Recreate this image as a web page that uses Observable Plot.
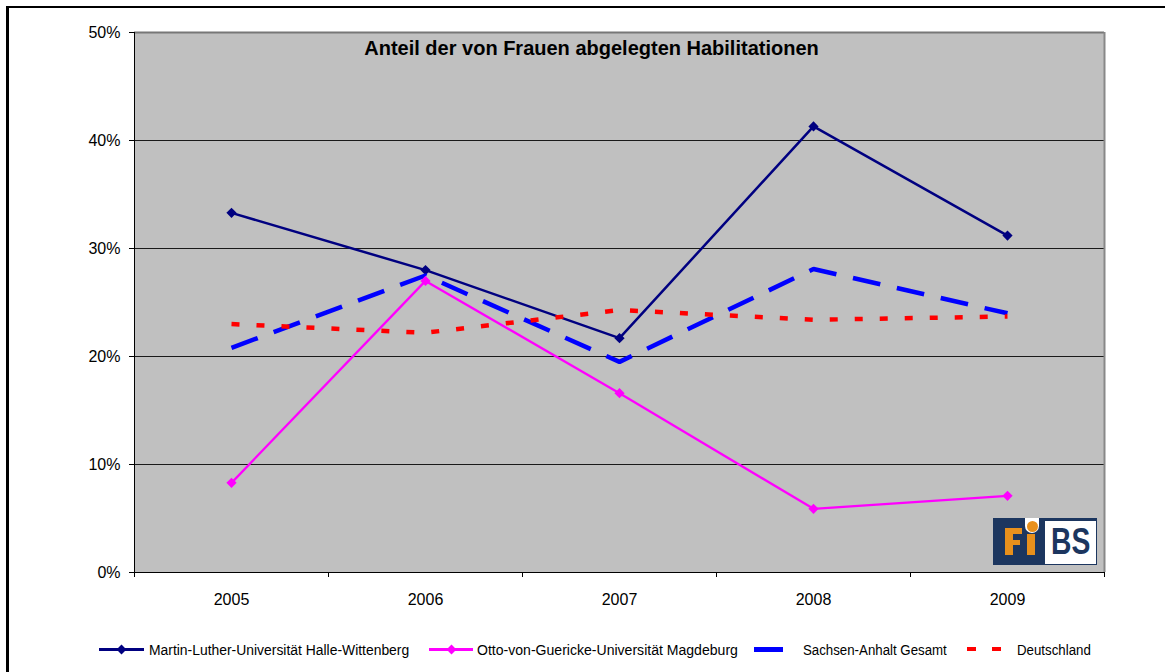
<!DOCTYPE html>
<html><head><meta charset="utf-8">
<script src="https://cdn.jsdelivr.net/npm/d3@7"></script>
<script src="https://cdn.jsdelivr.net/npm/@observablehq/plot@0.6"></script>
<style>
body{margin:0;background:#fff;font-family:"Liberation Sans",Arial,sans-serif;}
#wrap{position:relative;width:1165px;height:672px;overflow:hidden;background:#fff;}
#chart{position:absolute;left:0;top:0;}
.frame{position:absolute;left:6px;top:6px;width:1300px;height:800px;border-top:2px solid #000;border-left:3px solid #000;pointer-events:none;}
.abs{position:absolute;}
.lt{position:absolute;top:642.5px;font-size:14px;line-height:14px;white-space:nowrap;transform-origin:0 0;color:#000;}
</style></head>
<body>
<div id="wrap">
  <div id="chart"></div>
  <div class="frame"></div>
  <div id="legend"></div>
  <div id="logo"></div>
</div>
<script>
const title = "Anteil der von Frauen abgelegten Habilitationen";
const years = [2005, 2006, 2007, 2008, 2009];
const yearBounds = [2004.5, 2005.5, 2006.5, 2007.5, 2008.5, 2009.5];
const yTicks = [0, 0.1, 0.2, 0.3, 0.4, 0.5];
const seriesNames = [
  "Martin-Luther-Universität Halle-Wittenberg",
  "Otto-von-Guericke-Universität Magdeburg",
  "Sachsen-Anhalt Gesamt",
  "Deutschland"
];
const mluValues  = [0.333, 0.280, 0.217, 0.413, 0.312];
const ovguValues = [0.083, 0.270, 0.166, 0.059, 0.071];
const lsaValues  = [0.208, 0.275, 0.195, 0.281, 0.240];
const deValues   = [0.230, 0.222, 0.243, 0.234, 0.237];
const seriesColors = ["#000080", "#ff00ff", "#0000ff", "#ff0000"];

const rows = (name, vals) => years.map((y, i) => ({year: y, value: vals[i], series: name}));
const mlu = rows(seriesNames[0], mluValues);
const ovgu = rows(seriesNames[1], ovguValues);
const lsa = rows(seriesNames[2], lsaValues);
const de = rows(seriesNames[3], deValues);

const chart = Plot.plot({
  width: 1165, height: 625,
  marginLeft: 134, marginRight: 61, marginTop: 32, marginBottom: 53,
  style: {fontFamily: '"Liberation Sans", Arial, sans-serif', fontSize: "16px", background: "transparent", color: "#000", overflow: "visible"},
  x: {type: "linear", domain: [2004.5, 2009.5]},
  y: {domain: [0, 0.5]},
  marks: [
    Plot.frame({fill: "#c0c0c0", stroke: "none"}),
    Plot.ruleY(yTicks.filter(t => t > 0 && t < 0.5), {stroke: "#1a1a1a", strokeWidth: 1.2}),
    Plot.ruleY([0.5], {stroke: "#777", strokeWidth: 2}),
    Plot.ruleX([2009.5], {stroke: "#888", strokeWidth: 2}),
    Plot.ruleX([2004.5], {stroke: "#000", strokeWidth: 1}),
    Plot.ruleY([0], {stroke: "#000", strokeWidth: 1}),
    Plot.axisY({ticks: yTicks, tickFormat: d3.format(".0%"), tickSize: 5, tickPadding: 9, label: null}),
    Plot.axisX({ticks: yearBounds, tickSize: 5, tickFormat: () => "", label: null}),
    Plot.axisX({ticks: years, tickSize: 0, tickPadding: 21, tickFormat: d => String(d), label: null}),
    Plot.text([title], {text: d => d, frameAnchor: "top", dx: -28, dy: 8, lineAnchor: "top", fontSize: 20, fontWeight: "bold", fill: "#000"}),
    Plot.line(mlu, {x: "year", y: "value", stroke: seriesColors[0], strokeWidth: 2.5}),
    Plot.dot(mlu, {x: "year", y: "value", symbol: "diamond2", r: 4.6, fill: seriesColors[0], stroke: "none"}),
    Plot.line(lsa, {x: "year", y: "value", stroke: seriesColors[2], strokeWidth: 4.5, strokeDasharray: "28,17", strokeLinecap: "butt", strokeLinejoin: "miter"}),
    Plot.line(de, {x: "year", y: "value", stroke: seriesColors[3], strokeWidth: 4.5, strokeDasharray: "8,17", strokeLinecap: "butt"}),
    Plot.line(ovgu, {x: "year", y: "value", stroke: seriesColors[1], strokeWidth: 2.3}),
    Plot.dot(ovgu, {x: "year", y: "value", symbol: "diamond2", r: 4.6, fill: seriesColors[1], stroke: "none"})
  ]
});
document.getElementById("chart").appendChild(chart);

// Legend (HTML, below the SVG)
const legend = document.getElementById("legend");
function el(parent, css, cls, txt) {
  const d = document.createElement("div");
  d.className = cls || "abs";
  Object.assign(d.style, css);
  if (txt != null) d.textContent = txt;
  parent.appendChild(d);
  return d;
}
const cy = 649;
const legendItems = [
  {sym: "lineDiamond", x1: 99, x2: 144, tx: 149, tw: 260},
  {sym: "lineDiamond", x1: 429, x2: 473, tx: 477, tw: 261},
  {sym: "thick", x1: 754, x2: 783, tx: 803, tw: 144},
  {sym: "dash", x1: 967, x2: 1001, tx: 1017, tw: 74}
];
legendItems.forEach((it, i) => {
  const c = seriesColors[i];
  if (it.sym === "lineDiamond") {
    el(legend, {left: it.x1 + "px", top: (cy - 1.5) + "px", width: (it.x2 - it.x1) + "px", height: "3px", background: c});
    const mx = (it.x1 + it.x2) / 2;
    el(legend, {left: (mx - 3.5) + "px", top: (cy - 3.5) + "px", width: "7px", height: "7px", background: c, transform: "rotate(45deg)"});
  } else if (it.sym === "thick") {
    el(legend, {left: it.x1 + "px", top: (cy - 2.5) + "px", width: (it.x2 - it.x1) + "px", height: "5px", background: c});
  } else {
    el(legend, {left: it.x1 + "px", top: (cy - 2.5) + "px", width: "9px", height: "4.5px", background: c});
    el(legend, {left: (it.x2 - 9) + "px", top: (cy - 2.5) + "px", width: "9px", height: "4.5px", background: c});
  }
  const t = el(legend, {left: it.tx + "px"}, "lt", seriesNames[i]);
  const w = t.offsetWidth;
  t.style.transform = "scaleX(" + (it.tw / w) + ")";
});

// Logo FiBS
const logo = document.getElementById("logo");
const navy = "#1c365f", orange = "#e8901c";
el(logo, {left: "993px", top: "518px", width: "104px", height: "47px", background: navy});
el(logo, {left: "1045px", top: "520.5px", width: "51px", height: "43px", background: "#fff"});
el(logo, {left: "1025px", top: "518px", width: "14px", height: "15px", background: "#fff", borderRadius: "0 0 7px 7px"});
el(logo, {left: "1026.5px", top: "520.5px", width: "11px", height: "11px", background: orange, borderRadius: "50%"});
el(logo, {left: "1005px", top: "528px", width: "7.5px", height: "27px", background: orange});
el(logo, {left: "1005px", top: "528px", width: "17px", height: "6px", background: orange});
el(logo, {left: "1005px", top: "539.5px", width: "15px", height: "5.5px", background: orange});
el(logo, {left: "1027px", top: "534px", width: "7.5px", height: "21px", background: orange});
const bs = el(logo, {left: "1051px", top: "523px", fontSize: "37px", lineHeight: "37px", fontWeight: "bold", color: navy, whiteSpace: "nowrap", transformOrigin: "0 0", fontFamily: '"Liberation Sans", Arial, sans-serif'}, "abs", "BS");
bs.style.transform = "scaleX(" + (39 / bs.offsetWidth) + ")";
</script>
</body></html>
